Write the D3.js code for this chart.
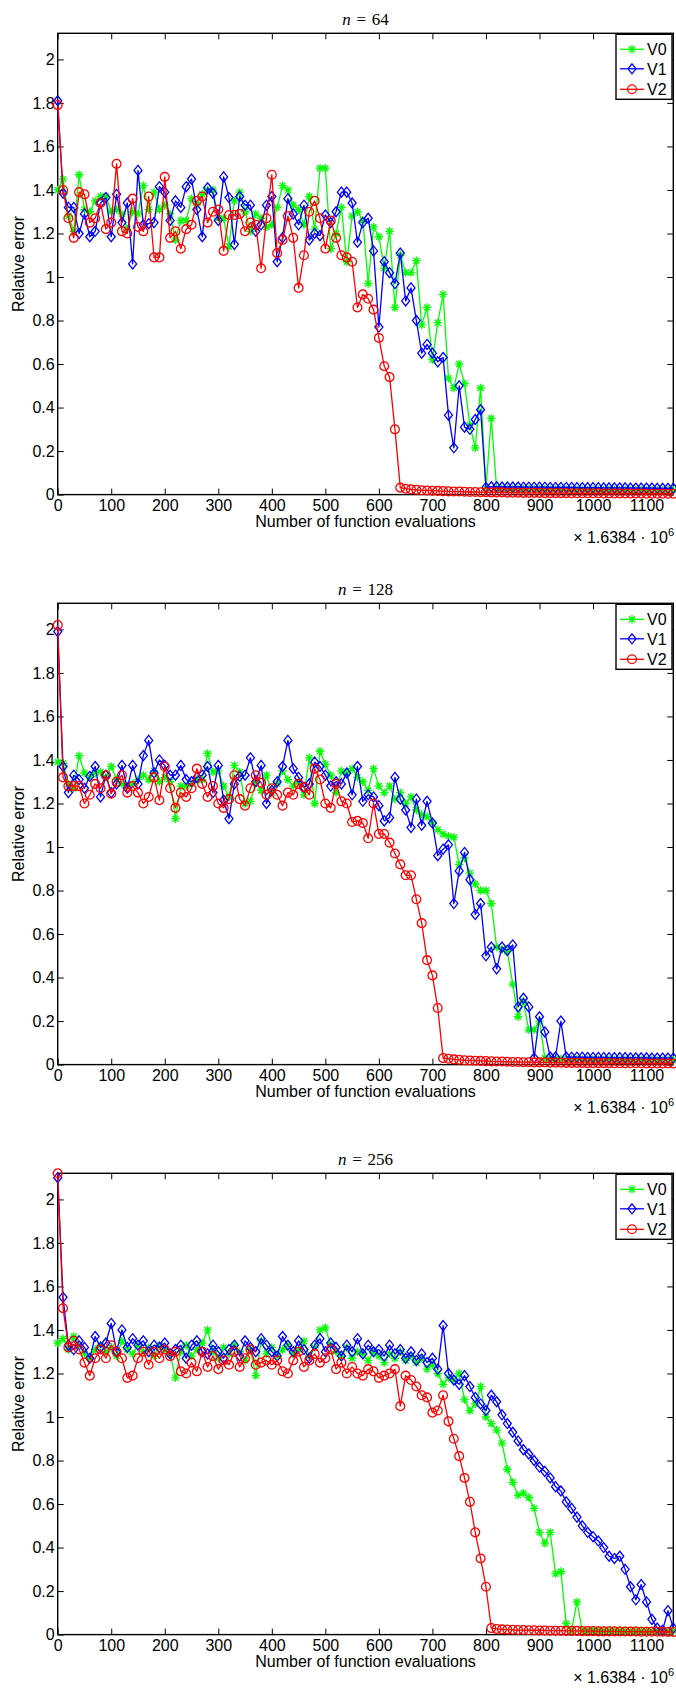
<!DOCTYPE html>
<html><head><meta charset="utf-8">
<script src="https://cdn.jsdelivr.net/npm/d3@7"></script>
<style>
html,body{margin:0;padding:0;background:#fff;}
svg{display:block;}
text{font-family:"Liberation Sans",Arial,Helvetica,sans-serif;}
</style></head><body>
<svg id="chart" width="676" height="1688"></svg>
<script>
// ---------------- data ----------------
const xValues = [0,10,20,30,40,50,60,70,80,90,100,110,120,130,140,150,160,170,180,190,
200,210,220,230,240,250,260,270,280,290,300,310,320,330,340,350,360,370,380,390,
400,410,420,430,440,450,460,470,480,490,500,510,520,530,540,550,560,570,580,590,
600,610,620,630,640,650,660,670,680,690,700,710,720,730,740,750,760,770,780,790,
800,810,820,830,840,850,860,870,880,890,900,910,920,930,940,950,960,970,980,990,
1000,1010,1020,1030,1040,1050,1060,1070,1080,1090,1100,1110,1120,1130,1140,1150];
const xTicks = [0,100,200,300,400,500,600,700,800,900,1000,1100];
const yTicks = [0,0.2,0.4,0.6,0.8,1,1.2,1.4,1.6,1.8,2];
const seriesNames = ["V0","V1","V2"];
const panelNs = ["64","128","256"];

// n = 64
const v0_64 = [1.40,1.45,1.28,1.21,1.47,1.31,1.30,1.35,1.37,1.37,
1.30,1.31,1.29,1.22,1.30,1.29,1.42,1.31,1.39,1.31,
1.33,1.29,1.17,1.26,1.26,1.36,1.33,1.38,1.40,1.40,
1.27,1.27,1.14,1.35,1.39,1.30,1.21,1.29,1.27,1.23,
1.24,1.32,1.42,1.40,1.33,1.31,1.24,1.37,1.22,1.50,
1.50,1.13,1.20,1.32,1.07,1.28,1.30,1.26,0.97,1.23,
1.185,1.04,1.21,0.86,1.10,1.02,1.02,1.075,0.78,0.86,
0.62,0.79,0.92,0.535,0.49,0.60,0.51,0.32,0.215,0.49,
0.03,0.35,0.028,0.027,0.027,0.026,0.026,0.026,0.025,0.025,
0.025,0.025,0.024,0.024,0.024,0.024,0.023,0.023,0.023,0.023,
0.022,0.022,0.022,0.022,0.022,0.021,0.021,0.021,0.021,0.021,
0.020,0.020,0.020,0.020,0.020,0.020];
const v1_64 = [1.81,1.385,1.32,1.32,1.20,1.29,1.185,1.21,1.34,1.365,
1.185,1.38,1.25,1.34,1.06,1.49,1.24,1.245,1.25,1.415,
1.39,1.26,1.35,1.32,1.415,1.45,1.31,1.185,1.41,1.385,
1.26,1.46,1.365,1.15,1.37,1.33,1.33,1.21,1.24,1.33,
1.37,1.07,1.18,1.36,1.29,1.24,1.33,1.17,1.20,1.19,
1.285,1.25,1.30,1.39,1.39,1.34,1.16,1.25,1.27,1.12,
0.77,1.07,1.02,0.97,1.11,0.89,0.95,0.80,0.65,0.69,
0.65,0.61,0.63,0.365,0.215,0.50,0.31,0.30,0.345,0.39,
0.033,0.036,0.036,0.035,0.035,0.035,0.035,0.034,0.034,0.034,
0.034,0.034,0.033,0.033,0.033,0.033,0.033,0.032,0.032,0.032,
0.032,0.032,0.031,0.031,0.031,0.031,0.031,0.030,0.030,0.030,
0.030,0.030,0.029,0.029,0.029,0.029];
const v2_64 = [1.79,1.40,1.27,1.18,1.39,1.38,1.25,1.27,1.34,1.22,
1.25,1.52,1.21,1.20,1.36,1.23,1.21,1.37,1.09,1.09,
1.46,1.18,1.21,1.13,1.22,1.24,1.35,1.37,1.25,1.30,
1.31,1.12,1.285,1.285,1.29,1.21,1.25,1.24,1.04,1.27,
1.47,1.11,1.17,1.28,1.18,0.95,1.10,1.30,1.35,1.27,
1.13,1.26,1.18,1.10,1.09,1.07,0.86,0.92,0.90,0.85,
0.72,0.59,0.54,0.30,0.032,0.027,0.024,0.022,0.020,0.019,
0.018,0.017,0.016,0.015,0.014,0.014,0.013,0.012,0.012,0.011,
0.011,0.010,0.010,0.010,0.009,0.009,0.009,0.008,0.008,0.008,
0.008,0.007,0.007,0.007,0.007,0.007,0.006,0.006,0.006,0.006,
0.006,0.006,0.005,0.005,0.005,0.005,0.005,0.005,0.005,0.005,
0.004,0.004,0.004,0.004,0.004,0.004];

// n = 128
const v0_128 = [1.39,1.385,1.29,1.27,1.42,1.34,1.32,1.34,1.345,1.32,
1.37,1.31,1.29,1.28,1.29,1.31,1.33,1.31,1.35,1.30,
1.32,1.30,1.13,1.28,1.28,1.29,1.31,1.31,1.43,1.345,
1.35,1.28,1.23,1.375,1.345,1.20,1.21,1.30,1.26,1.33,
1.25,1.29,1.35,1.31,1.28,1.30,1.24,1.41,1.20,1.44,
1.38,1.33,1.25,1.35,1.34,1.36,1.32,1.30,1.26,1.36,
1.28,1.25,1.28,1.22,1.25,1.20,1.23,1.17,1.15,1.14,
1.11,1.08,1.06,1.05,1.045,0.92,0.95,0.88,0.83,0.80,
0.80,0.74,0.54,0.53,0.52,0.37,0.22,0.29,0.16,0.16,
0.20,0.03,0.026,0.026,0.025,0.025,0.025,0.024,0.024,0.024,
0.023,0.023,0.023,0.023,0.022,0.022,0.022,0.022,0.021,0.021,
0.021,0.021,0.020,0.020,0.020,0.020];
const v1_128 = [1.99,1.37,1.25,1.33,1.31,1.27,1.325,1.37,1.23,1.33,
1.25,1.29,1.375,1.27,1.375,1.29,1.42,1.49,1.34,1.40,
1.375,1.33,1.33,1.375,1.31,1.30,1.32,1.33,1.37,1.25,
1.375,1.215,1.13,1.29,1.325,1.33,1.41,1.30,1.375,1.20,
1.26,1.30,1.37,1.49,1.36,1.32,1.275,1.29,1.39,1.37,
1.33,1.28,1.30,1.29,1.34,1.24,1.37,1.21,1.24,1.23,
1.19,1.12,1.135,1.32,1.22,1.17,1.09,1.22,1.10,1.21,
1.11,0.96,0.99,1.01,0.74,0.89,0.975,0.85,0.69,0.74,
0.50,0.54,0.44,0.54,0.525,0.55,0.265,0.305,0.265,0.03,
0.22,0.15,0.035,0.035,0.20,0.035,0.034,0.034,0.034,0.033,
0.033,0.033,0.033,0.032,0.032,0.032,0.032,0.031,0.031,0.031,
0.031,0.030,0.030,0.030,0.030,0.030];
const v2_128 = [2.02,1.32,1.28,1.28,1.28,1.20,1.24,1.29,1.27,1.33,
1.245,1.30,1.33,1.25,1.28,1.25,1.20,1.23,1.32,1.215,
1.37,1.27,1.18,1.25,1.23,1.27,1.36,1.29,1.23,1.28,
1.20,1.18,1.22,1.33,1.22,1.19,1.27,1.33,1.295,1.24,
1.27,1.24,1.19,1.25,1.24,1.29,1.275,1.24,1.36,1.31,
1.20,1.18,1.29,1.21,1.20,1.115,1.12,1.11,1.04,1.20,
1.06,1.06,1.02,0.97,0.92,0.87,0.87,0.76,0.65,0.48,
0.41,0.26,0.03,0.027,0.024,0.022,0.020,0.019,0.018,0.017,
0.016,0.015,0.014,0.014,0.013,0.012,0.012,0.011,0.011,0.010,
0.010,0.010,0.009,0.009,0.009,0.008,0.008,0.008,0.008,0.007,
0.007,0.007,0.007,0.007,0.006,0.006,0.006,0.006,0.006,0.006,
0.005,0.005,0.005,0.005,0.005,0.005];

// n = 256
const v0_256 = [1.34,1.36,1.31,1.37,1.33,1.29,1.27,1.31,1.33,1.30,
1.32,1.28,1.35,1.31,1.29,1.33,1.30,1.32,1.28,1.33,
1.31,1.29,1.18,1.30,1.33,1.28,1.31,1.34,1.40,1.30,
1.27,1.32,1.29,1.33,1.30,1.26,1.31,1.19,1.35,1.29,
1.32,1.28,1.31,1.33,1.29,1.31,1.35,1.28,1.32,1.40,
1.41,1.33,1.30,1.28,1.32,1.27,1.30,1.29,1.26,1.30,
1.28,1.25,1.29,1.27,1.30,1.26,1.28,1.25,1.27,1.22,
1.24,1.20,1.15,1.18,1.17,1.20,1.08,1.03,1.06,1.14,
1.00,0.97,0.94,0.88,0.76,0.70,0.64,0.65,0.63,0.58,
0.47,0.42,0.47,0.28,0.29,0.05,0.02,0.15,0.02,0.02,
0.02,0.02,0.019,0.019,0.019,0.019,0.018,0.018,0.018,0.018,
0.018,0.017,0.017,0.017,0.017,0.017];
const v1_256 = [2.10,1.55,1.33,1.31,1.35,1.32,1.27,1.37,1.32,1.34,
1.43,1.30,1.40,1.32,1.36,1.33,1.35,1.30,1.33,1.32,
1.34,1.29,1.31,1.33,1.27,1.33,1.35,1.30,1.29,1.33,
1.30,1.27,1.31,1.33,1.28,1.35,1.32,1.30,1.36,1.33,
1.30,1.28,1.37,1.33,1.30,1.35,1.31,1.27,1.33,1.36,
1.30,1.34,1.32,1.28,1.33,1.30,1.36,1.29,1.33,1.30,
1.31,1.28,1.33,1.29,1.31,1.27,1.30,1.26,1.29,1.25,
1.27,1.22,1.42,1.20,1.17,1.15,1.19,1.14,1.09,1.06,
1.03,1.10,1.07,1.01,0.97,0.93,0.89,0.85,0.83,0.80,
0.77,0.75,0.72,0.68,0.66,0.61,0.58,0.54,0.50,0.47,
0.45,0.43,0.40,0.36,0.35,0.36,0.30,0.22,0.16,0.23,
0.15,0.07,0.03,0.02,0.11,0.03];
const v2_256 = [2.12,1.50,1.32,1.35,1.31,1.25,1.19,1.27,1.31,1.27,
1.33,1.30,1.27,1.18,1.19,1.27,1.30,1.24,1.30,1.27,
1.31,1.28,1.30,1.21,1.20,1.25,1.21,1.30,1.23,1.28,
1.22,1.26,1.24,1.30,1.23,1.27,1.31,1.24,1.25,1.26,
1.24,1.26,1.21,1.20,1.26,1.30,1.23,1.26,1.29,1.25,
1.27,1.31,1.22,1.25,1.20,1.23,1.20,1.19,1.22,1.21,
1.18,1.19,1.20,1.22,1.05,1.19,1.17,1.14,1.10,1.09,
1.02,1.03,1.10,0.98,0.90,0.82,0.72,0.61,0.47,0.35,
0.22,0.03,0.026,0.024,0.023,0.022,0.021,0.021,0.020,0.020,
0.019,0.019,0.018,0.018,0.018,0.017,0.017,0.017,0.016,0.016,
0.016,0.015,0.015,0.015,0.015,0.014,0.014,0.014,0.014,0.013,
0.013,0.013,0.013,0.013,0.012,0.012];

// ---------------- drawing ----------------
const panels = [
  {n: panelNs[0], series: [v0_64, v1_64, v2_64]},
  {n: panelNs[1], series: [v0_128, v1_128, v2_128]},
  {n: panelNs[2], series: [v0_256, v1_256, v2_256]}
];
const colors = ["#00ff00", "#0000ff", "#ff0000"];
const markerPaths = [
  "M-4.2,0H4.2M0,-4.2V4.2M-3,-3L3,3M-3,3L3,-3",
  "M0,-5L4,0L0,5L-4,0Z",
  null
];
const left = 57.7, right = 673.3, plotH = 461.3;
const tops = [33.3, 603.3, 1173.3];
const svg = d3.select("#chart");

panels.forEach((p, k) => {
  const top = tops[k], bottom = top + plotH;
  const x = d3.scaleLinear().domain([0, 1150]).range([left, right]);
  const y = d3.scaleLinear().domain([0, 2.12]).range([bottom, top]);
  const g = svg.append("g");

  // axes (ticks inward, box on)
  const fmtY = d => String(+d.toFixed(1));
  const ax = [
    g.append("g").attr("transform", `translate(0,${bottom})`)
      .call(d3.axisBottom(x).tickValues(xTicks).tickSize(-6).tickSizeOuter(0).tickPadding(5).tickFormat(d3.format("d"))),
    g.append("g").attr("transform", `translate(0,${top})`)
      .call(d3.axisTop(x).tickValues(xTicks).tickSize(-6).tickSizeOuter(0).tickFormat("")),
    g.append("g").attr("transform", `translate(${left},0)`)
      .call(d3.axisLeft(y).tickValues(yTicks).tickSize(-6).tickSizeOuter(0).tickPadding(3).tickFormat(fmtY)),
    g.append("g").attr("transform", `translate(${right},0)`)
      .call(d3.axisRight(y).tickValues(yTicks).tickSize(-6).tickSizeOuter(0).tickFormat(""))
  ];
  ax.forEach(a => {
    a.select(".domain").remove();
    a.selectAll(".tick line").attr("stroke", "#000").attr("stroke-width", 1);
    a.selectAll(".tick text").attr("fill", "#000").style("font-size", "16px")
      .style("font-family", '"Liberation Sans",Arial,Helvetica,sans-serif');
  });
  g.append("rect").attr("x", left).attr("y", top).attr("width", right - left).attr("height", plotH)
    .attr("fill", "none").attr("stroke", "#000").attr("stroke-width", 1.4);

  // series
  p.series.forEach((vals, s) => {
    const pts = vals.map((v, i) => [xValues[i], v]);
    const line = d3.line().x(d => x(d[0])).y(d => y(d[1]));
    g.append("path").attr("d", line(pts)).attr("fill", "none")
      .attr("stroke", colors[s]).attr("stroke-width", 1.3).attr("stroke-linejoin", "round");
    const mk = g.append("g").selectAll("g").data(pts).enter().append("g")
      .attr("transform", d => `translate(${x(d[0])},${y(d[1])})`);
    if (markerPaths[s]) {
      mk.append("path").attr("d", markerPaths[s]).attr("fill", "none")
        .attr("stroke", colors[s]).attr("stroke-width", 1.3);
    } else {
      mk.append("circle").attr("r", 4.4).attr("fill", "none")
        .attr("stroke", colors[s]).attr("stroke-width", 1.3);
    }
  });

  // title
  const t = g.append("text").attr("x", (left + right) / 2).attr("y", top - 8)
    .attr("text-anchor", "middle").style("font-family", '"Liberation Serif","DejaVu Serif",serif')
    .style("font-size", "17px");
  t.append("tspan").style("font-style", "italic").text("n");
  t.append("tspan").text("\u2004=\u2004" + p.n);

  // axis labels
  g.append("text").attr("x", (left + right) / 2).attr("y", bottom + 32)
    .attr("text-anchor", "middle").style("font-size", "16px").text("Number of function evaluations");
  g.append("text").attr("transform", `translate(24,${(top + bottom) / 2}) rotate(-90)`)
    .attr("text-anchor", "middle").style("font-size", "16px").text("Relative error");
  const m = g.append("text").attr("x", 674).attr("y", bottom + 48).attr("text-anchor", "end")
    .style("font-size", "16px");
  m.append("tspan").text("× 1.6384 · 10");
  m.append("tspan").attr("dy", -7).style("font-size", "11px").text("6");

  // legend
  const lg = g.append("g");
  lg.append("rect").attr("x", 616).attr("y", top + 1).attr("width", 56).attr("height", 65)
    .attr("fill", "#fff").attr("stroke", "#000").attr("stroke-width", 1.4);
  const ly = [16, 35.5, 56];
  seriesNames.forEach((nm, s) => {
    const yy = top + ly[s];
    lg.append("line").attr("x1", 620).attr("x2", 644).attr("y1", yy).attr("y2", yy)
      .attr("stroke", colors[s]).attr("stroke-width", 1.3);
    if (markerPaths[s]) {
      lg.append("path").attr("transform", `translate(632,${yy})`).attr("d", markerPaths[s])
        .attr("fill", "none").attr("stroke", colors[s]).attr("stroke-width", 1.3);
    } else {
      lg.append("circle").attr("cx", 632).attr("cy", yy).attr("r", 4.4)
        .attr("fill", "none").attr("stroke", colors[s]).attr("stroke-width", 1.3);
    }
    lg.append("text").attr("x", 647).attr("y", yy + 6).style("font-size", "16px").text(nm);
  });
});
</script>
</body></html>
